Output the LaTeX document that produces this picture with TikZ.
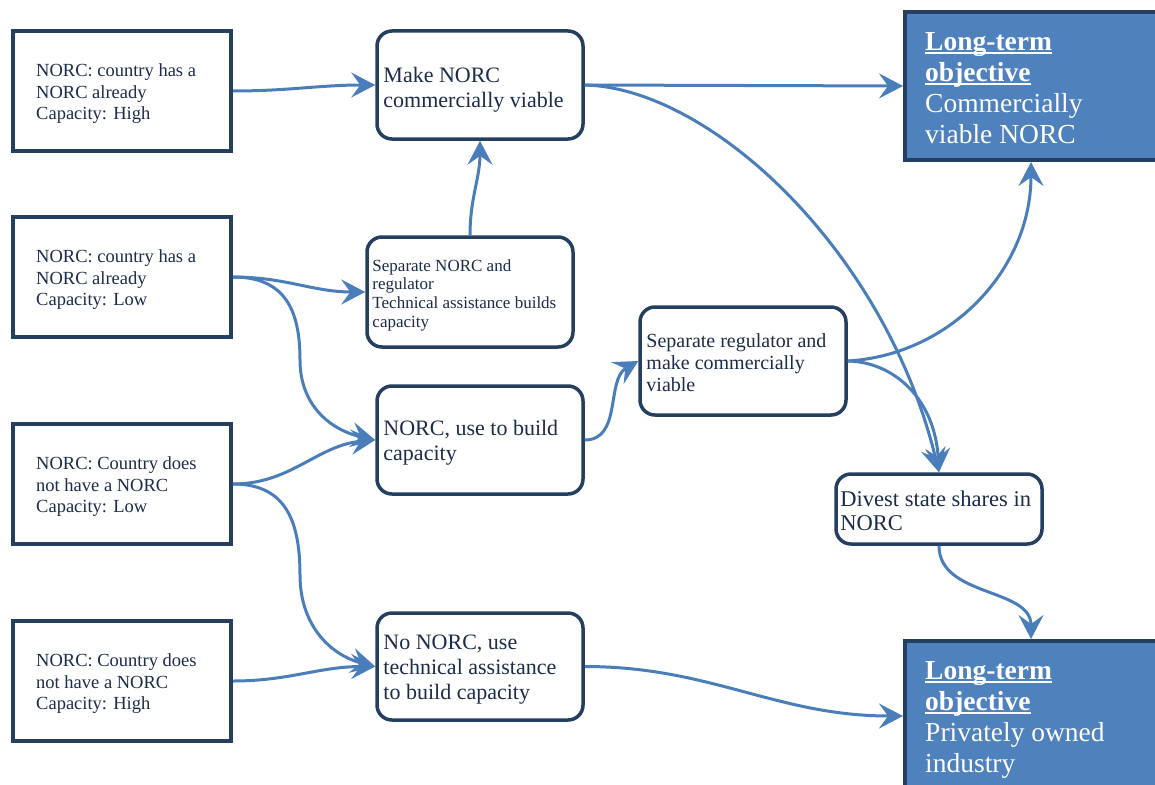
\documentclass[tikz,border=0pt]{standalone}
\usepackage{fontspec}
\setmainfont{Liberation Serif}
\usetikzlibrary{arrows.meta,calc}
\definecolor{navy}{HTML}{243F60}
\definecolor{txt}{HTML}{1C2B4A}
\definecolor{arr}{HTML}{4A7EBB}
\definecolor{goal}{HTML}{4F81BD}
\newcommand\myul[1]{\setbox0=\hbox{#1}\rlap{\rule[-3pt]{\wd0}{1.8pt}}\box0}
\tikzset{
  sqbox/.style={draw=navy, line width=4pt, fill=white, inner sep=0pt},
  rbox/.style={draw=navy, line width=3.5pt, fill=white, rounded corners=15pt, inner sep=0pt},
  goalbox/.style={draw=navy, line width=4pt, fill=goal, inner sep=0pt},
  ltext/.style={inner sep=0pt, align=left, text=txt, anchor=west},
  conn/.style={draw=arr, line width=3pt, -{Stealth[length=24pt,width=25pt,inset=9pt]}},
}
\begin{document}
\begin{tikzpicture}[x=1pt,y=-1pt]
\useasboundingbox (0,0) rectangle (1155,784);
\clip (0,0) rectangle (1155,784);
\fill[white] (0,0) rectangle (1155,784);

% left situation boxes
\node[sqbox, minimum width=218pt, minimum height=120pt] (A1) at (122,91) {};
\node[sqbox, minimum width=218pt, minimum height=120pt] (A2) at (122,277) {};
\node[sqbox, minimum width=218pt, minimum height=120pt] (A3) at (122,484) {};
\node[sqbox, minimum width=218pt, minimum height=120pt] (A4) at (122,681) {};
\tikzset{lfont/.style={font=\fontsize{18.5}{21.5}\selectfont}}
\node[ltext, lfont] (A1t) at ([xshift=25pt,yshift=-3pt]A1.west) {NORC: country has a\\NORC already\\Capacity: High};
\node[ltext, lfont] (A2t) at ([xshift=25pt,yshift=-3pt]A2.west) {NORC: country has a\\NORC already\\Capacity: Low};
\node[ltext, lfont] (A3t) at ([xshift=25pt,yshift=-3pt]A3.west) {NORC: Country does\\not have a NORC\\Capacity: Low};
\node[ltext, lfont] (A4t) at ([xshift=25pt,yshift=-3pt]A4.west) {NORC: Country does\\not have a NORC\\Capacity: High};

% middle boxes
\node[rbox, minimum width=206pt, minimum height=108pt] (M1) at (480,85) {};
\node[rbox, minimum width=206pt, minimum height=110pt] (M2) at (470,292) {};
\node[rbox, minimum width=206pt, minimum height=108pt] (M3) at (480,440) {};
\node[rbox, minimum width=206pt, minimum height=107pt] (M4) at (480,666.5) {};
\node[rbox, minimum width=206pt, minimum height=108pt] (S) at (743,361) {};
\node[rbox, minimum width=206pt, minimum height=70pt] (D) at (939,509) {};

\node[ltext, font=\fontsize{22}{25}\selectfont] (M1t) at ([xshift=8pt,yshift=-5pt]M1.west) {Make NORC\\commercially viable};
\node[ltext, font=\fontsize{17}{18.7}\selectfont] (M2t) at ([xshift=7pt,yshift=-3pt]M2.west) {Separate NORC and\\regulator\\Technical assistance builds\\capacity};
\node[ltext, font=\fontsize{22}{25}\selectfont] (M3t) at ([xshift=8pt,yshift=-3pt]M3.west) {NORC, use to build\\capacity};
\node[ltext, font=\fontsize{22}{25}\selectfont] (M4t) at ([xshift=8pt,yshift=-3pt]M4.west) {No NORC, use\\technical assistance\\to build capacity};
\node[ltext, font=\fontsize{20}{22}\selectfont] (St) at ([xshift=8pt,yshift=-2pt]S.west) {Separate regulator and\\make commercially\\viable};
\node[ltext, font=\fontsize{22.5}{24}\selectfont] (Dt) at ([xshift=6pt,yshift=-2pt]D.west) {Divest state shares in\\NORC};

% goal boxes
\node[goalbox, minimum width=252pt, minimum height=148pt] (G1) at (1031,86) {};
\node[goalbox, minimum width=252pt, minimum height=150pt] (G2) at (1031,716) {};
\node[ltext, text=white, font=\fontsize{27.5}{31}\selectfont] (G1t) at ([xshift=22pt,yshift=-2.5pt]G1.west) {\textbf{\myul{Long-term}}\\\textbf{\myul{objective}}\\Commercially\\viable NORC};
\node[ltext, text=white, font=\fontsize{27.5}{31}\selectfont] (G2t) at ([xshift=22pt,yshift=-4pt]G2.west) {\textbf{\myul{Long-term}}\\\textbf{\myul{objective}}\\Privately owned\\industry};

% connectors
\draw[conn] (A1.east) to[out=0,in=180] (M1.west);
\draw[conn] (A2.east) to[out=0,in=180] (M2.west);
\draw[conn] (A2.east) .. controls (285,277) and (300,310) .. (300,360) .. controls (300,405) and (330,430) .. (M3.west);
\draw[conn] (A3.east) to[out=0,in=185] (M3.west);
\draw[conn] (A3.east) .. controls (285,484) and (300,520) .. (300,575) .. controls (300,625) and (330,655) .. (M4.west);
\draw[conn] (A4.east) to[out=0,in=180] (M4.west);
\draw[conn] (M2.north) to[out=90,in=-90] (M1.south);
\draw[conn] (M1.east) -- (G1.west);
\draw[conn] (M1.east) .. controls (710,88) and (885,250) .. (D.north);
\draw[conn] (M3.east) to[out=0,in=210] (S.west);
\draw[conn] (S.east) .. controls (950,355) and (1031,270) .. (G1.south);
\draw[conn] (S.east) .. controls (895,362) and (935,400) .. (D.north);
\draw[conn] (D.south) to[out=-90,in=90] (G2.north);
\draw[conn] (M4.east) to[out=0,in=180] (G2.west);
\end{tikzpicture}
\end{document}
